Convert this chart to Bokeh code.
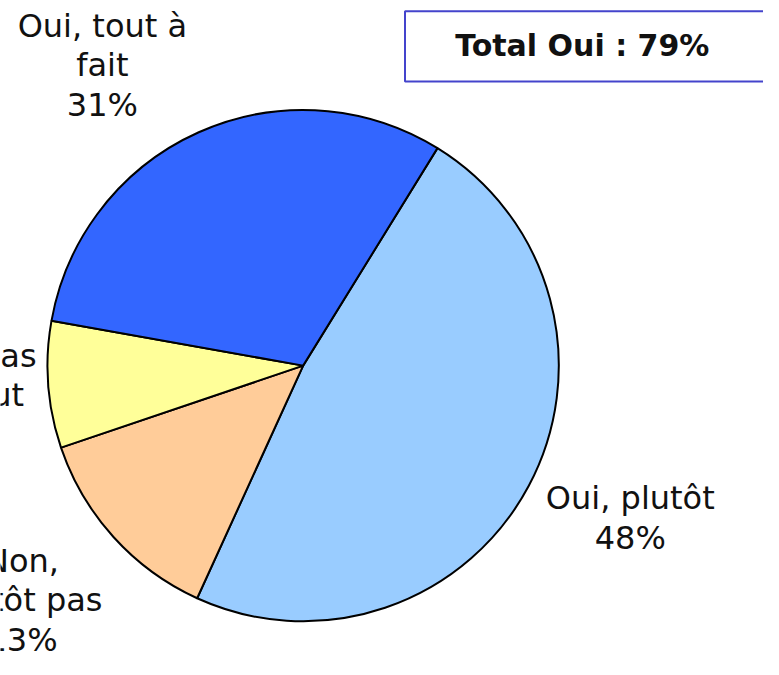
import math
from bokeh.plotting import figure
from bokeh.models import Range1d, ColumnDataSource
from bokeh.core.properties import value
from bokeh.embed import file_html
from bokeh.resources import INLINE

# ---- data ----
categories = ["Oui, plutôt", "Non, plutôt pas", "Non, pas du tout", "Oui, tout à fait"]
label_lines = [["Oui, plutôt"], ["Non,", "plutôt pas"], ["Non, pas", "du tout"], ["Oui, tout à", "fait"]]
shares = [48, 13, 8, 31]
colors = ["#99CCFF", "#FFCC99", "#FFFF99", "#3366FF"]
total_label = "Total Oui : 79%"

# ---- layout (coordinates of the 779x675 reference picture) ----
W, H = 763, 659
REF_W, REF_H = 779, 675
TEXT_DY = 11             # compensate the svg baseline offset
def sy(y):               # picture y (down) -> data y (up)
    return REF_H - y

CX, CY, R = 309, 374, 261
ROT = 31.7               # clockwise degrees from 12 o'clock where first slice starts
label_anchor = [(643, 521), (22, 585), (-35, 375), (104, 37)]
LINE_STEP = 40.5
FONT = "DejaVu Sans"

p = figure(width=W, height=H, output_backend="svg", toolbar_location=None,
           x_range=Range1d(0, REF_W), y_range=Range1d(0, REF_H),
           min_border=0, outline_line_color=None, background_fill_color="white",
           border_fill_color="white")
p.axis.visible = False
p.grid.visible = False

total = float(sum(shares))
starts, ends = [], []
acc = ROT
for s in shares:
    t1 = acc
    t2 = acc + s / total * 360.0
    starts.append(math.radians(90 - t1))
    ends.append(math.radians(90 - t2))
    acc = t2

src = ColumnDataSource(dict(start=starts, end=ends, color=colors))
p.wedge(x=CX, y=sy(CY), radius=R, start_angle="start", end_angle="end",
        direction="clock", fill_color="color", line_color="black", line_width=2,
        source=src)

# labels
for lines, share, (ax, ay) in zip(label_lines, shares, label_anchor):
    all_lines = lines + [f"{share}%"]
    xs = [ax] * len(all_lines)
    ys = [sy(ay - TEXT_DY + i * LINE_STEP) for i in range(len(all_lines))]
    p.text(x=xs, y=ys, text=all_lines, text_font=value(FONT), text_font_size="32px",
           text_align="center", text_baseline="alphabetic", text_color="#111111")

# total box
p.quad(left=[413], right=[820], top=[sy(11)], bottom=[sy(83)], fill_color="white",
       line_color="#4444CC", line_width=2)
p.text(x=[594], y=[sy(57 - TEXT_DY)], text=[total_label], text_font=value(FONT),
       text_font_size="30px", text_font_style="bold", text_align="center",
       text_baseline="alphabetic", text_color="#111111")

open("out.html", "w").write(file_html(p, INLINE))
